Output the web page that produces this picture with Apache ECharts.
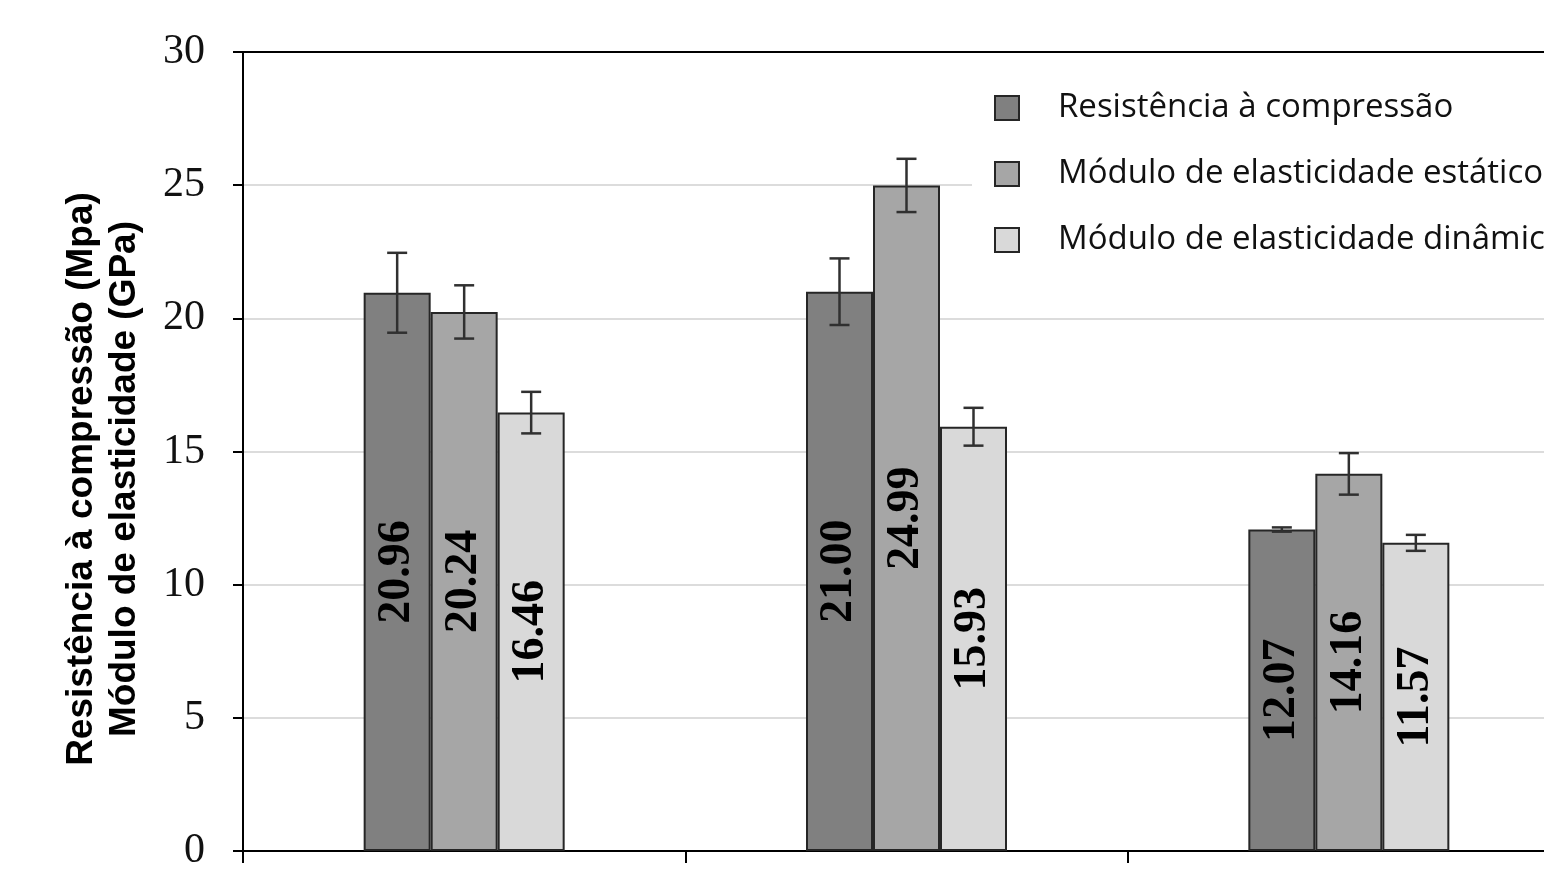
<!DOCTYPE html>
<html>
<head>
<meta charset="utf-8">
<script src="https://cdn.jsdelivr.net/npm/echarts@6/dist/echarts.min.js"></script>
<style>
html,body{margin:0;padding:0;background:#fff;}
#chart{width:1544px;height:869px;}
</style>
</head>
<body>
<div id="chart"></div>
<script>
// ---- data ----
var categories = ['Grupo 1', 'Grupo 2', 'Grupo 3'];
var seriesNames = ['Resistência à compressão', 'Módulo de elasticidade estático', 'Módulo de elasticidade dinâmico'];
var resistencia = [20.96, 21.00, 12.07];
var estatico = [20.24, 24.99, 14.16];
var dinamico = [16.46, 15.93, 11.57];
var errResistencia = [1.5, 1.25, 0.08];
var errEstatico = [1.0, 1.0, 0.78];
var errDinamico = [0.78, 0.71, 0.3];
var yTicks = [0, 5, 10, 15, 20, 25, 30];

var values = [resistencia, estatico, dinamico];
var errors = [errResistencia, errEstatico, errDinamico];
var colors = ['#808080', '#a6a6a6', '#d9d9d9'];
var BAR_W = 67;

var chart = echarts.init(document.getElementById('chart'));

var barSeries = values.map(function (vals, i) {
  return {
    name: seriesNames[i],
    type: 'bar',
    data: vals,
    barWidth: BAR_W,
    barGap: '0%',
    itemStyle: { color: colors[i], borderColor: '#262626', borderWidth: 2 },
    label: {
      show: true,
      position: 'inside',
      rotate: 90,
      formatter: function (p) { return p.value.toFixed(2); },
      fontFamily: 'Liberation Serif',
      fontWeight: 'bold',
      fontSize: 46,
      color: '#000'
    },
    z: 2
  };
});

var errSeries = values.map(function (vals, i) {
  var d = vals.map(function (v, k) { return [k, v, errors[i][k]]; });
  return {
    type: 'custom',
    name: 'err' + i,
    data: d,
    z: 5,
    silent: true,
    renderItem: function (params, api) {
      var k = api.value(0), v = api.value(1), e = api.value(2);
      var hi = api.coord([k, v + e]);
      var lo = api.coord([k, v - e]);
      var x = hi[0] + (i - 1) * BAR_W;
      var cap = 10;
      var st = { stroke: '#303030', lineWidth: 2.5 };
      return {
        type: 'group',
        children: [
          { type: 'line', shape: { x1: x, y1: hi[1], x2: x, y2: lo[1] }, style: st },
          { type: 'line', shape: { x1: x - cap, y1: hi[1], x2: x + cap, y2: hi[1] }, style: st },
          { type: 'line', shape: { x1: x - cap, y1: lo[1], x2: x + cap, y2: lo[1] }, style: st }
        ]
      };
    }
  };
});

var option = {
  backgroundColor: '#fff',
  animation: false,
  grid: { left: 243, top: 52, width: 1327, height: 799, outerBoundsMode: 'none', containLabel: false },
  legend: {
    data: seriesNames,
    orient: 'vertical',
    left: 972,
    top: 73,
    padding: [15, 10, 15, 22],
    backgroundColor: '#fff',
    itemWidth: 24,
    itemHeight: 24,
    itemGap: 26,
    icon: 'rect',
    textStyle: {
      fontFamily: 'Open Sans',
      fontSize: 33,
      color: '#111',
      lineHeight: 40,
      padding: [0, 0, 0, 34]
    },
    z: 10
  },
  xAxis: [{
    type: 'category',
    data: categories,
    boundaryGap: true,
    axisLine: { show: true, lineStyle: { color: '#000', width: 2 } },
    axisTick: { show: true, length: 12, lineStyle: { color: '#000', width: 2 } },
    axisLabel: { show: false },
    splitLine: { show: false }
  }, {
    type: 'category',
    data: categories,
    position: 'top',
    axisLine: { show: true, lineStyle: { color: '#000', width: 2 } },
    axisTick: { show: false },
    axisLabel: { show: false }
  }],
  yAxis: {
    type: 'value',
    min: yTicks[0],
    max: yTicks[yTicks.length - 1],
    interval: 5,
    axisLine: { show: true, lineStyle: { color: '#000', width: 2 } },
    axisTick: { show: true, length: 10, lineStyle: { color: '#000', width: 2 } },
    axisLabel: {
      margin: 38,
      fontFamily: 'Liberation Serif',
      fontSize: 42,
      color: '#111'
    },
    splitLine: { show: true, lineStyle: { color: '#dcdcdc', width: 2 } }
  },
  graphic: [{
    type: 'text',
    x: 103,
    y: 479,
    rotation: Math.PI / 2,
    style: {
      text: 'Resistência à compressão (Mpa)\nMódulo de elasticidade (GPa)',
      fontFamily: 'Liberation Sans',
      fontWeight: 'bold',
      fontSize: 37,
      lineHeight: 43,
      textAlign: 'center',
      textVerticalAlign: 'middle',
      fill: '#000'
    }
  }],
  series: barSeries.concat(errSeries)
};

chart.setOption(option);
</script>
</body>
</html>
